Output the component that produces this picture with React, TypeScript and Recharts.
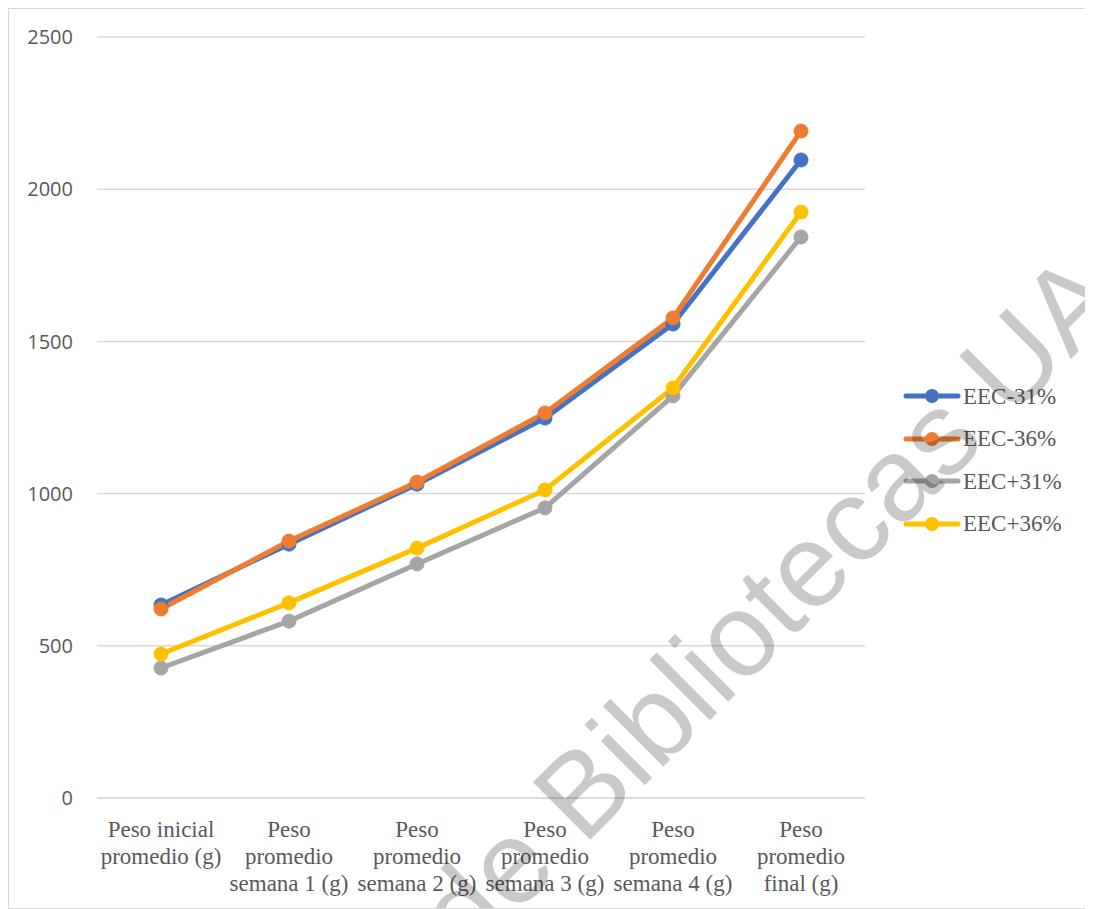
import React from 'react';
import { LineChart, Line, XAxis, YAxis, CartesianGrid, Legend } from 'recharts';

// Category labels, one entry per line of the tick text
const categoryLines: string[][] = [
  ['Peso inicial', 'promedio (g)'],
  ['Peso', 'promedio', 'semana 1 (g)'],
  ['Peso', 'promedio', 'semana 2 (g)'],
  ['Peso', 'promedio', 'semana 3 (g)'],
  ['Peso', 'promedio', 'semana 4 (g)'],
  ['Peso', 'promedio', 'final (g)'],
];

const eecMenos31 = [634, 834, 1031, 1248, 1557, 2096];
const eecMenos36 = [621, 844, 1038, 1265, 1577, 2191];
const eecMas31 = [427, 581, 769, 953, 1321, 1843];
const eecMas36 = [473, 641, 821, 1012, 1347, 1925];

const yTicks = [0, 500, 1000, 1500, 2000, 2500];

const seriesNames = ['EEC-31%', 'EEC-36%', 'EEC+31%', 'EEC+36%'];
const seriesColors = ['#4472C4', '#ED7D31', '#A5A5A5', '#FFC000'];
const seriesValues = [eecMenos31, eecMenos36, eecMas31, eecMas36];

const categoryKeys = categoryLines.map((l) => l.join(' '));

const data = categoryKeys.map((cat, i) => {
  const row: Record<string, string | number> = { cat };
  seriesNames.forEach((name, s) => {
    row[name] = seriesValues[s][i];
  });
  return row;
});

const TEXT = '#595959';

const CategoryTick = (props: any) => {
  const { x, y, payload } = props;
  const idx = categoryKeys.indexOf(payload.value);
  const lines = idx >= 0 ? categoryLines[idx] : [String(payload.value)];
  return (
    <g>
      {lines.map((line, i) => (
        <text
          key={i}
          x={x}
          y={y + 31 + i * 27}
          textAnchor="middle"
          fill={TEXT}
          fontFamily="'Liberation Serif', 'Times New Roman', serif"
          fontSize={23}
        >
          {line}
        </text>
      ))}
    </g>
  );
};

const LegendBox = () => (
  <div style={{ fontFamily: "'Liberation Serif', 'Times New Roman', serif" }}>
    {seriesNames.map((name, i) => (
      <div key={name} style={{ display: 'flex', alignItems: 'center', height: 42.5 }}>
        <svg width={58} height={20} style={{ display: 'block' }}>
          <line x1={3} y1={10} x2={55} y2={10} stroke={seriesColors[i]} strokeWidth={5} strokeLinecap="round" />
          <circle cx={29} cy={10} r={7} fill={seriesColors[i]} />
        </svg>
        <span style={{ fontSize: 23, color: TEXT, lineHeight: 1, marginLeft: 2 }}>{name}</span>
      </div>
    ))}
  </div>
);

// Watermark drawn over the chart, running up to the right
const WM_X = 185;
const WM_Y = 1227;
const WM_ANGLE = -45;

export default function App() {
  return (
    <div
      style={{
        position: 'relative',
        width: 1083,
        height: 899,
        border: '1px solid #d9d9d9',
        background: '#fff',
        overflow: 'hidden',
      }}
    >
      <LineChart width={1083} height={899} data={data} margin={{ top: 28, right: 227, bottom: 0, left: 0 }}>
        <CartesianGrid vertical={false} stroke="#d9d9d9" strokeWidth={1.5} />
        <XAxis
          dataKey="cat"
          height={110}
          padding={{ left: 64, right: 64 }}
          axisLine={{ stroke: '#d9d9d9', strokeWidth: 1.5 }}
          tickLine={false}
          tick={<CategoryTick />}
          interval={0}
        />
        <YAxis
          width={88}
          domain={[0, 2500]}
          ticks={yTicks}
          axisLine={false}
          tickLine={false}
          tickSize={0}
          tickMargin={24}
          tick={{ fill: TEXT, fontSize: 20, fontFamily: "'Open Sans', sans-serif" }}
        />
        <Legend
          layout="horizontal"
          verticalAlign="middle"
          align="center"
          content={<LegendBox />}
          wrapperStyle={{ position: 'absolute', left: 894, top: 366, width: 190 }}
        />
        {seriesNames.map((name, i) => (
          <Line
            key={name}
            type="linear"
            dataKey={name}
            stroke={seriesColors[i]}
            strokeWidth={5}
            dot={{ r: 7, fill: seriesColors[i], stroke: seriesColors[i], strokeWidth: 1 }}
            activeDot={false}
            isAnimationActive={false}
          />
        ))}
      </LineChart>
      <svg
        width={1083}
        height={899}
        style={{ position: 'absolute', left: 0, top: 0, pointerEvents: 'none' }}
      >
        <text
          x={WM_X}
          y={WM_Y}
          transform={`rotate(${WM_ANGLE} ${WM_X} ${WM_Y})`}
          fontFamily="'Liberation Sans', Arial, sans-serif"
          fontSize={118}
          fill="#000"
          fillOpacity={0.21}
        >
          Centro de Bibliotecas UAO
        </text>
      </svg>
    </div>
  );
}
